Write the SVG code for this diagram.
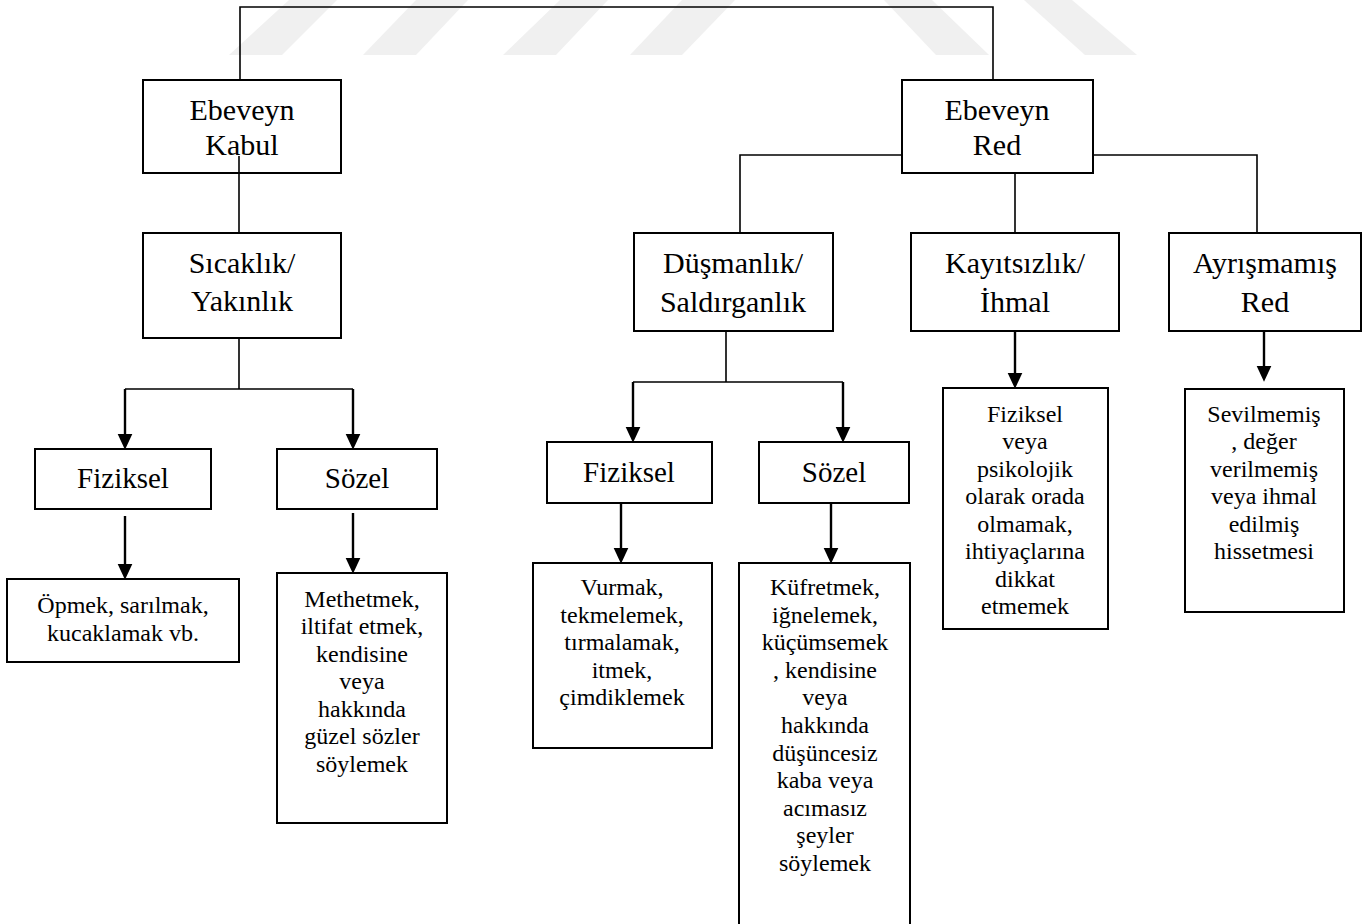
<svg xmlns="http://www.w3.org/2000/svg" width="1365" height="924" viewBox="0 0 1365 924">
<style>
.box{fill:#fff;stroke:#000;stroke-width:2}
.lbl{font-family:"Liberation Serif","Times New Roman",serif;font-size:30px;fill:#000;text-anchor:middle}
.mid{font-family:"Liberation Serif","Times New Roman",serif;font-size:29px;fill:#000;text-anchor:middle}
.sm{font-family:"Liberation Serif","Times New Roman",serif;font-size:24px;fill:#000;text-anchor:middle}
.ln{fill:none;stroke:#000;stroke-width:1.6}
.ar{fill:none;stroke:#000;stroke-width:2.4;marker-end:url(#ah)}
.wm{fill:#f0f0f0}
</style>
<defs>
<marker id="ah" markerUnits="userSpaceOnUse" markerWidth="16" markerHeight="16" viewBox="0 0 15 14" refX="5" refY="7" orient="auto">
<path d="M0,0 L15,7 L0,14 z" fill="#000"/>
</marker>
</defs>
<rect width="1365" height="924" fill="#fff"/>
<g id="watermark">
<polygon class="wm" points="289,0 337,0 282,55 229,55"/>
<polygon class="wm" points="416,0 468,0 416,55 363,55"/>
<polygon class="wm" points="560,0 608,0 556,55 503,55"/>
<polygon class="wm" points="682,0 735,0 682,55 630,55"/>
<polygon class="wm" points="884,0 932,0 989,55 936,55"/>
<polygon class="wm" points="1024,0 1072,0 1137,55 1085,55"/>
</g>
<g id="ebeveyn-kabul">
<rect class="box" x="143" y="80" width="198" height="93"/>
<text class="lbl" x="242" y="120">Ebeveyn</text>
<text class="lbl" x="242" y="155">Kabul</text>
</g>
<g id="ebeveyn-red">
<rect class="box" x="902" y="80" width="191" height="93"/>
<text class="lbl" x="997" y="120">Ebeveyn</text>
<text class="lbl" x="997" y="155">Red</text>
</g>
<g id="sicaklik">
<rect class="box" x="143" y="233" width="198" height="105"/>
<text class="lbl" x="242" y="273">Sıcaklık/</text>
<text class="lbl" x="242" y="311">Yakınlık</text>
</g>
<g id="fiziksel-1">
<rect class="box" x="35" y="449" width="176" height="60"/>
<text class="mid" x="123" y="488">Fiziksel</text>
</g>
<g id="sozel-1">
<rect class="box" x="277" y="449" width="160" height="60"/>
<text class="mid" x="357" y="488">Sözel</text>
</g>
<g id="opmek">
<rect class="box" x="7" y="579" width="232" height="83"/>
<text class="sm" x="123" y="613">Öpmek, sarılmak,</text>
<text class="sm" x="123" y="641">kucaklamak vb.</text>
</g>
<g id="methetmek">
<rect class="box" x="277" y="573" width="170" height="250"/>
<text class="sm" x="362" y="607">Methetmek,</text>
<text class="sm" x="362" y="634">iltifat etmek,</text>
<text class="sm" x="362" y="662">kendisine</text>
<text class="sm" x="362" y="689">veya</text>
<text class="sm" x="362" y="717">hakkında</text>
<text class="sm" x="362" y="744">güzel sözler</text>
<text class="sm" x="362" y="772">söylemek</text>
</g>
<g id="dusmanlik">
<rect class="box" x="634" y="233" width="199" height="98"/>
<text class="lbl" x="733" y="273">Düşmanlık/</text>
<text class="lbl" x="733" y="312">Saldırganlık</text>
</g>
<g id="kayitsizlik">
<rect class="box" x="911" y="233" width="208" height="98"/>
<text class="lbl" x="1015" y="273">Kayıtsızlık/</text>
<text class="lbl" x="1015" y="312">İhmal</text>
</g>
<g id="ayrismamis">
<rect class="box" x="1169" y="233" width="192" height="98"/>
<text class="lbl" x="1265" y="273">Ayrışmamış</text>
<text class="lbl" x="1265" y="312">Red</text>
</g>
<g id="fiziksel-2">
<rect class="box" x="547" y="442" width="165" height="61"/>
<text class="mid" x="629" y="482">Fiziksel</text>
</g>
<g id="sozel-2">
<rect class="box" x="759" y="442" width="150" height="61"/>
<text class="mid" x="834" y="482">Sözel</text>
</g>
<g id="vurmak">
<rect class="box" x="533" y="563" width="179" height="185"/>
<text class="sm" x="622" y="595">Vurmak,</text>
<text class="sm" x="622" y="623">tekmelemek,</text>
<text class="sm" x="622" y="650">tırmalamak,</text>
<text class="sm" x="622" y="678">itmek,</text>
<text class="sm" x="622" y="705">çimdiklemek</text>
</g>
<g id="kufretmek">
<rect class="box" x="739" y="563" width="171" height="380"/>
<text class="sm" x="825" y="595">Küfretmek,</text>
<text class="sm" x="825" y="623">iğnelemek,</text>
<text class="sm" x="825" y="650">küçümsemek</text>
<text class="sm" x="825" y="678">, kendisine</text>
<text class="sm" x="825" y="705">veya</text>
<text class="sm" x="825" y="733">hakkında</text>
<text class="sm" x="825" y="761">düşüncesiz</text>
<text class="sm" x="825" y="788">kaba veya</text>
<text class="sm" x="825" y="816">acımasız</text>
<text class="sm" x="825" y="843">şeyler</text>
<text class="sm" x="825" y="871">söylemek</text>
</g>
<g id="ihmal-text">
<rect class="box" x="943" y="388" width="165" height="241"/>
<text class="sm" x="1025" y="422">Fiziksel</text>
<text class="sm" x="1025" y="449">veya</text>
<text class="sm" x="1025" y="477">psikolojik</text>
<text class="sm" x="1025" y="504">olarak orada</text>
<text class="sm" x="1025" y="532">olmamak,</text>
<text class="sm" x="1025" y="559">ihtiyaçlarına</text>
<text class="sm" x="1025" y="587">dikkat</text>
<text class="sm" x="1025" y="614">etmemek</text>
</g>
<g id="red-text">
<rect class="box" x="1185" y="389" width="159" height="223"/>
<text class="sm" x="1264" y="422">Sevilmemiş</text>
<text class="sm" x="1264" y="449">, değer</text>
<text class="sm" x="1264" y="477">verilmemiş</text>
<text class="sm" x="1264" y="504">veya ihmal</text>
<text class="sm" x="1264" y="532">edilmiş</text>
<text class="sm" x="1264" y="559">hissetmesi</text>
</g>
<g id="connectors">
<path class="ln" d="M240,79 V7 H993 V79"/>
<path class="ln" d="M239,156 V233"/>
<path class="ln" d="M239,339 V389 M125,389 H353"/>
<path class="ar" d="M125,389 V439"/>
<path class="ar" d="M353,389 V439"/>
<path class="ar" d="M125,516 V569"/>
<path class="ar" d="M353,513 V563"/>
<path class="ln" d="M901,155 H740 V232 M1094,155 H1257 V232 M1015,174 V232"/>
<path class="ln" d="M726,332 V382 M633,382 H843"/>
<path class="ar" d="M633,382 V432"/>
<path class="ar" d="M843,382 V432"/>
<path class="ar" d="M621,504 V553"/>
<path class="ar" d="M831,504 V553"/>
<path class="ar" d="M1015,332 V378"/>
<path class="ar" d="M1264,332 V371"/>
</g>
</svg>
